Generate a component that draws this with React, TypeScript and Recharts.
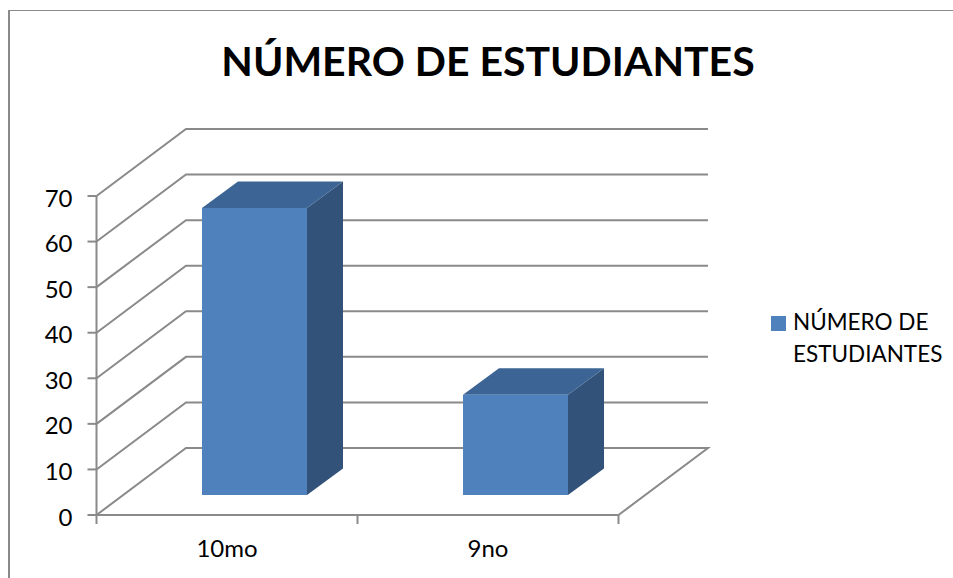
import React from "react";
import { BarChart, Bar, XAxis, YAxis, CartesianGrid, Legend } from "recharts";

const categories = ["10mo", "9no"];
const studentCounts = [63, 22];
const yTicks = [0, 10, 20, 30, 40, 50, 60, 70];
const seriesName = "NÚMERO DE ESTUDIANTES";
const legendLines = ["NÚMERO DE", "ESTUDIANTES"];

const data = categories.map((name, i) => ({ name, value: studentCounts[i] }));

const WIDTH = 953;
const HEIGHT = 578;
const PLOT_LEFT = 96.5;
const PLOT_RIGHT = 618.5;
const PLOT_TOP = 196;
const PLOT_BOTTOM = 515;

// 3d look: how far the back wall sits from the front plane
const WALL_DX = 89.5;
const WALL_DY = -67;
// bar sits a bit into the floor, and has its own depth
const BAR_DX = 27.5;
const BAR_DY = -20;
const DEPTH_DX = 36;
const DEPTH_DY = -26.5;

const AXIS_COLOR = "#8a8a8a";
const LINE_WIDTH = 2;
const FONT = "Lato, 'Open Sans', sans-serif";

const WallLine = (props: any) => {
  const { x1, x2, y1 } = props;
  const isFloor = Math.abs(y1 - PLOT_BOTTOM) < 1;
  const backY = y1 + WALL_DY;
  let points = `${x1},${y1} ${x1 + WALL_DX},${backY} ${x2 + WALL_DX},${backY}`;
  if (isFloor) points += ` ${x2},${y1}`;
  return <polyline points={points} fill="none" stroke={AXIS_COLOR} strokeWidth={LINE_WIDTH} />;
};

const Bar3D = (props: any) => {
  const { x, y, width, height } = props;
  const left = x + BAR_DX;
  const right = left + width;
  const top = y + BAR_DY;
  const bottom = y + height + BAR_DY;
  return (
    <g>
      <polygon
        points={`${right},${top} ${right + DEPTH_DX},${top + DEPTH_DY} ${right + DEPTH_DX},${bottom + DEPTH_DY} ${right},${bottom}`}
        fill="#325279"
      />
      <polygon
        points={`${left},${top} ${left + DEPTH_DX},${top + DEPTH_DY} ${right + DEPTH_DX},${top + DEPTH_DY} ${right},${top}`}
        fill="#3c6494"
      />
      <rect x={left} y={top} width={width} height={height} fill="#4f81bd" />
    </g>
  );
};

const CategoryTick = (props: any) => {
  const { x, y, payload, index } = props;
  const band = (PLOT_RIGHT - PLOT_LEFT) / categories.length;
  const edges = index === categories.length - 1 ? [x - band / 2, x + band / 2] : [x - band / 2];
  return (
    <g>
      {edges.map((ex) => (
        <line key={ex} x1={ex} x2={ex} y1={PLOT_BOTTOM} y2={PLOT_BOTTOM + 9} stroke={AXIS_COLOR} strokeWidth={LINE_WIDTH} />
      ))}
      <text x={x} y={y + 34} textAnchor="middle" fontFamily={FONT} fontSize={24} fill="#000">
        {payload.value}
      </text>
    </g>
  );
};

const LegendBox = () => (
  <div style={{ position: "relative", width: 180, height: 70, fontFamily: FONT, fontSize: 22.5, lineHeight: "32px", color: "#000" }}>
    <span style={{ position: "absolute", left: 0, top: 10, width: 15, height: 15, background: "#4f81bd" }} />
    <div style={{ position: "absolute", left: 22, top: 0, whiteSpace: "nowrap" }}>
      {legendLines.map((line) => (
        <div key={line}>{line}</div>
      ))}
    </div>
  </div>
);

export default function App() {
  return (
    <div style={{ position: "absolute", left: 0, top: 0, width: WIDTH, height: HEIGHT, background: "#fff", overflow: "hidden" }}>
      <div
        style={{
          position: "absolute",
          left: 8,
          top: 10,
          right: -4,
          bottom: -4,
          borderLeft: `2px solid ${AXIS_COLOR}`,
          borderTop: `1.5px solid ${AXIS_COLOR}`,
        }}
      />
      <div
        style={{
          position: "absolute",
          left: 0,
          width: 976,
          top: 34,
          textAlign: "center",
          fontFamily: FONT,
          fontWeight: 700,
          fontSize: 41,
          lineHeight: "54px",
          color: "#000",
          whiteSpace: "nowrap",
        }}
      >
        {seriesName}
      </div>
      <div style={{ position: "absolute", left: 0, top: 0 }}>
        <BarChart
          width={WIDTH}
          height={HEIGHT}
          data={data}
          margin={{ top: PLOT_TOP, bottom: 0, left: 0, right: WIDTH - PLOT_RIGHT }}
        >
          <CartesianGrid vertical={false} horizontal={(p: any) => <WallLine {...p} key={p.key ?? p.index} />} />
          <XAxis
            dataKey="name"
            height={HEIGHT - PLOT_BOTTOM}
            tickLine={false}
            axisLine={{ stroke: AXIS_COLOR, strokeWidth: LINE_WIDTH }}
            tick={<CategoryTick />}
            interval={0}
          />
          <YAxis
            width={PLOT_LEFT}
            domain={[0, 70]}
            ticks={yTicks}
            interval={0}
            tickSize={9}
            tickMargin={15}
            tickLine={{ stroke: AXIS_COLOR, strokeWidth: LINE_WIDTH }}
            axisLine={{ stroke: AXIS_COLOR, strokeWidth: LINE_WIDTH }}
            tick={{ fill: "#000", fontFamily: FONT, fontSize: 24, dy: 2 }}
          />
          <Bar dataKey="value" name={seriesName} barSize={105} shape={<Bar3D />} isAnimationActive={false} />
          <Legend
            layout="vertical"
            align="center"
            verticalAlign="middle"
            content={<LegendBox />}
            wrapperStyle={{ position: "absolute", left: 771, top: 306, width: 180, height: 70 }}
          />
        </BarChart>
      </div>
    </div>
  );
}
